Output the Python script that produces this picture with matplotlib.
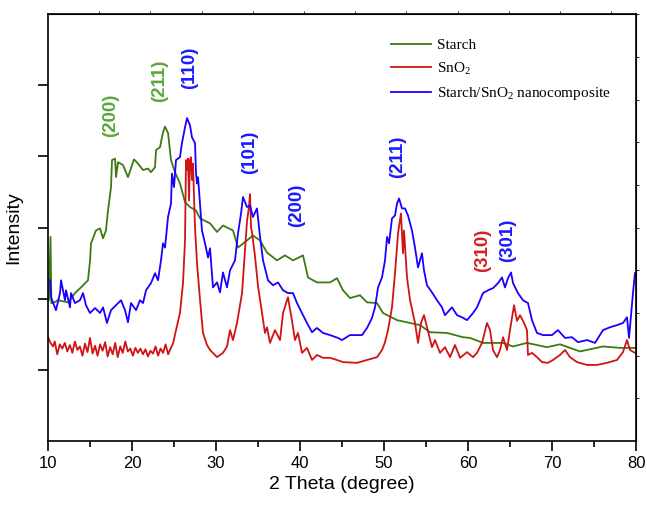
import matplotlib
matplotlib.use("Agg")
import matplotlib.pyplot as plt
import numpy as np

plt.rcParams['font.family'] = ['Liberation Sans', 'DejaVu Sans']
plt.rcParams['mathtext.default'] = 'regular'

# 2 theta (degree) / intensity (a.u.)
starch_x = [10.1, 10.3, 10.4, 10.6, 11.19, 12.38, 13.21, 13.93, 14.76, 15.0, 15.12, 15.71, 16.19,
            16.55, 16.9, 17.14, 17.5, 17.62, 17.98, 18.1, 18.33, 18.93, 19.52, 20.24, 20.71, 21.31,
            21.9, 22.26, 22.74, 22.86, 23.33, 23.69, 23.93, 24.29, 24.64, 25.12, 25.71, 26.31, 26.9,
            27.62, 28.1, 29.29, 30.12, 30.83, 32.02, 32.62, 33.69, 34.4, 35.24, 36.07, 37.26, 38.21,
            39.17, 40.36, 40.95, 42.02, 43.57, 44.4, 45.12, 45.95, 47.14, 47.98, 49.17, 49.88, 51.55,
            53.1, 54.29, 55.48, 57.5, 59.4, 60.24, 61.79, 64.17, 65.36, 67.02, 69.4, 70.95, 73.33,
            76.07, 78.1, 79.88]
starch_y = [1.98, 2.87, 1.94, 1.94, 1.98, 1.95, 2.08, 2.16, 2.26, 2.53, 2.78, 2.96, 2.99,
            2.85, 2.96, 3.24, 3.57, 3.95, 3.97, 3.71, 3.92, 3.88, 3.71, 3.96, 3.90, 3.81,
            3.83, 3.78, 3.85, 4.09, 4.13, 4.34, 4.42, 4.33, 3.95, 3.78, 3.62, 3.36, 3.29,
            3.24, 3.13, 3.06, 2.94, 3.03, 2.96, 2.72, 2.82, 2.89, 2.82, 2.65, 2.54, 2.61,
            2.54, 2.61, 2.30, 2.23, 2.23, 2.29, 2.12, 2.01, 2.05, 1.95, 1.94, 1.80, 1.70,
            1.66, 1.63, 1.53, 1.52, 1.46, 1.45, 1.38, 1.38, 1.33, 1.38, 1.32, 1.36, 1.26,
            1.33, 1.31, 1.31]

sno2_x = [10.0, 10.3, 10.6, 10.8, 11.1, 11.4, 11.7, 12.0, 12.3, 12.6, 12.9, 13.2, 13.5, 13.8,
          14.1, 14.4, 14.7, 15.0, 15.3, 15.6, 15.9, 16.2, 16.5, 16.8, 17.1, 17.4, 17.7, 18.0,
          18.3, 18.6, 18.9, 19.2, 19.5, 19.8, 20.1, 20.4, 20.7, 21.0, 21.3, 21.6, 21.9, 22.2,
          22.5, 22.8, 23.1, 23.4, 23.7, 24.0, 24.3, 24.6, 24.88, 25.24, 25.71, 26.07, 26.31,
          26.43, 26.55, 26.67, 26.79, 26.9, 27.02, 27.14, 27.26, 27.5, 27.74, 28.1, 28.45,
          28.93, 29.29, 30.12, 30.83, 31.31, 31.67, 32.02, 32.5, 33.1, 33.45, 33.69, 33.93,
          34.05, 34.17, 34.29, 34.64, 35.0, 35.48, 35.83, 36.07, 36.43, 37.02, 37.62, 37.98,
          38.45, 38.57, 39.05, 39.4, 39.76, 40.24, 40.83, 41.43, 42.02, 42.74, 43.57, 44.4,
          45.12, 46.79, 47.98, 49.17, 49.76, 50.12, 50.48, 50.95, 51.31, 51.67, 52.02, 52.26,
          52.38, 52.74, 53.1, 53.69, 54.05, 54.4, 54.76, 55.12, 55.71, 56.07, 56.67, 57.26,
          57.86, 58.45, 59.05, 59.88, 60.6, 61.07, 61.67, 62.26, 62.62, 62.98, 63.45, 63.81,
          64.17, 64.64, 65.0, 65.48, 65.83, 66.19, 66.55, 67.02, 67.14, 67.62, 68.21, 68.81,
          69.52, 70.12, 70.95, 71.55, 72.14, 72.98, 74.17, 75.36, 76.55, 77.74, 78.45, 78.93,
          79.29, 79.88]
sno2_y = [1.46, 1.38, 1.33, 1.40, 1.22, 1.36, 1.30, 1.38, 1.26, 1.35, 1.24, 1.40, 1.28, 1.33,
          1.20, 1.37, 1.25, 1.45, 1.23, 1.34, 1.20, 1.36, 1.27, 1.39, 1.19, 1.32, 1.22, 1.38,
          1.18, 1.33, 1.24, 1.40, 1.26, 1.30, 1.20, 1.31, 1.24, 1.30, 1.22, 1.29, 1.19, 1.27,
          1.23, 1.33, 1.20, 1.30, 1.24, 1.36, 1.22, 1.30, 1.37, 1.56, 1.80, 2.22, 2.82,
          3.95, 3.81, 3.97, 3.38, 3.95, 3.99, 3.67, 3.90, 3.00, 2.50, 1.98, 1.52,
          1.35, 1.28, 1.18, 1.24, 1.33, 1.56, 1.42, 1.66, 2.08, 2.68, 3.09, 3.30,
          3.47, 3.00, 2.93, 2.60, 2.18, 1.80, 1.52, 1.60, 1.38, 1.56, 1.42, 1.80,
          1.98, 2.02, 1.69, 1.42, 1.52, 1.24, 1.31, 1.14, 1.21, 1.17, 1.17, 1.14,
          1.11, 1.10, 1.14, 1.18, 1.28, 1.39, 1.56, 1.88, 2.36, 2.92, 3.20, 2.64,
          2.96, 2.30, 1.98, 1.66, 1.38, 1.66, 1.77, 1.60, 1.32, 1.42, 1.24, 1.32,
          1.18, 1.35, 1.17, 1.25, 1.18, 1.24, 1.38, 1.66, 1.56, 1.28, 1.18, 1.28,
          1.46, 1.28, 1.56, 1.91, 1.69, 1.77, 1.69, 1.56, 1.21, 1.24, 1.18, 1.11,
          1.10, 1.14, 1.21, 1.28, 1.18, 1.11, 1.07, 1.07, 1.10, 1.14, 1.25, 1.42,
          1.28, 1.24]

comp_x = [10.24, 10.36, 10.95, 11.43, 11.55, 12.02, 12.14, 12.62, 12.74, 13.21, 13.81, 14.17,
          14.52, 15.0, 15.6, 16.19, 16.55, 17.02, 17.5, 18.1, 18.69, 19.17, 19.52, 19.88, 20.48,
          20.95, 21.31, 21.67, 22.26, 22.74, 23.1, 23.45, 23.69, 23.93, 24.29, 24.64, 24.76, 25.0,
          25.24, 25.71, 25.95, 26.31, 26.55, 26.9, 27.14, 27.5, 27.62, 27.74, 27.86, 28.33, 28.69,
          29.05, 29.29, 29.64, 30.12, 30.48, 30.83, 31.31, 31.67, 32.26, 32.62, 32.98, 33.21,
          33.69, 34.05, 34.4, 34.88, 35.24, 35.6, 36.19, 36.79, 37.38, 37.98, 38.57, 39.17,
          39.64, 40.24, 40.83, 41.43, 42.02, 42.74, 43.57, 44.52, 45.0, 45.95, 47.38, 47.98,
          48.57, 48.93, 49.29, 49.76, 50.12, 50.36, 50.6, 50.95, 51.31, 51.55, 51.79, 52.14,
          52.5, 52.86, 53.33, 53.69, 54.05, 54.52, 54.76, 55.12, 55.71, 56.31, 56.9, 57.26,
          58.1, 58.69, 59.29, 59.88, 60.6, 61.07, 61.79, 62.38, 62.98, 63.57, 64.05, 64.4,
          64.76, 65.12, 65.36, 65.95, 66.55, 67.14, 67.62, 68.21, 68.93, 70.0, 70.71, 71.55,
          72.38, 73.1, 74.17, 75.12, 76.07, 76.9, 77.74, 78.45, 78.93, 79.17, 79.64, 79.88]
comp_y = [2.26, 2.02, 1.84, 2.08, 2.26, 1.98, 2.12, 1.88, 2.08, 1.94, 1.98, 2.08,
          1.91, 1.80, 1.87, 1.80, 1.88, 1.66, 1.84, 1.91, 1.98, 1.84, 1.67, 1.94, 1.84,
          1.98, 1.94, 2.12, 2.22, 2.36, 2.26, 2.54, 2.78, 2.72, 3.15, 3.34, 3.76, 3.57,
          3.95, 3.99, 4.19, 4.41, 4.54, 4.44, 4.27, 4.19, 3.76, 3.62, 3.71, 2.96, 2.78,
          2.58, 2.71, 2.16, 2.23, 2.09, 2.37, 2.16, 2.40, 2.54, 2.92, 3.20, 3.43,
          3.29, 3.31, 3.15, 3.27, 2.87, 2.54, 2.26, 2.19, 2.23, 2.12, 2.08, 2.08,
          1.94, 1.80, 1.66, 1.53, 1.59, 1.52, 1.49, 1.45, 1.42, 1.49, 1.49, 1.59,
          1.73, 1.88, 2.16, 2.30, 2.54, 2.87, 2.78, 3.13, 3.17, 3.34, 3.41, 3.27,
          3.27, 3.17, 2.96, 2.72, 2.44, 2.64, 2.40, 2.19, 2.09, 1.98, 1.88, 1.77,
          1.88, 1.77, 1.74, 1.70, 1.80, 1.88, 2.08, 2.12, 2.15, 2.22, 2.30, 2.16,
          2.29, 2.37, 2.22, 2.08, 1.98, 1.94, 1.70, 1.52, 1.49, 1.49, 1.56, 1.45,
          1.46, 1.39, 1.42, 1.38, 1.56, 1.60, 1.63, 1.66, 1.74, 1.45, 2.08, 2.36]

# peak labels: text, 2 theta, height, colour
peak_text = ['(200)', '(211)', '(110)', '(101)', '(200)', '(211)', '(310)', '(301)']
peak_x = [17.4, 23.3, 26.9, 34.05, 39.64, 51.67, 61.8, 64.76]
peak_y = [4.58, 5.07, 5.24, 4.06, 3.31, 3.99, 2.68, 2.82]
peak_c = ['#5aa83c', '#5aa83c', '#1a1aff', '#1a1aff', '#1a1aff', '#1a1aff', '#d42020', '#1a1aff']

fig = plt.figure(figsize=(6.47, 5.07), dpi=100)
ax = fig.add_axes([0.0742, 0.130, 0.9088, 0.842])

ax.plot(starch_x, starch_y, color='#3c7a12', lw=1.3, label='Starch')
ax.plot(sno2_x, sno2_y, color='#d01414', lw=1.3, label='SnO$_2$')
ax.plot(comp_x, comp_y, color='#1a00ff', lw=1.3, label='Starch/SnO$_2$ nanocomposite')

for t, x, y, c in zip(peak_text, peak_x, peak_y, peak_c):
    ax.text(x, y, t, rotation=90, color=c, fontsize=13.5, fontweight='bold',
            ha='center', va='center')

ax.set_xlim(10, 80)
ax.set_ylim(0, 6)
ax.set_xticks(np.arange(10, 81, 10))
ax.set_xticks(np.arange(15, 80, 10), minor=True)
ax.set_yticks([1, 2, 3, 4, 5])
ax.set_yticklabels([])
ax.tick_params(axis='both', which='major', direction='out', length=7, width=1.2, labelsize=12)
ax.tick_params(axis='x', which='minor', direction='out', length=4, width=1.2)
for s in ax.spines.values():
    s.set_linewidth(1.2)

top = ax.secondary_xaxis('top')
top.set_xticks(10 + 6.095 * np.arange(1, 12))
top.set_xticklabels([])
top.tick_params(direction='out', length=2, width=0.6)
right = ax.secondary_yaxis('right')
right.set_yticks(0.6 * np.arange(1, 11))
right.set_yticklabels([])
right.tick_params(direction='out', length=2, width=0.6)

ax.set_xlabel('2 Theta (degree)', fontsize=14, labelpad=4)
ax.set_ylabel('Intensity', fontsize=14, labelpad=8)

ax.legend(loc='upper left', bbox_to_anchor=(0.56, 0.975), frameon=False,
          prop={'family': 'Liberation Serif', 'size': 11}, handlelength=2.6,
          labelspacing=0.55, handletextpad=0.4)

fig.savefig('out.png', dpi=100)
